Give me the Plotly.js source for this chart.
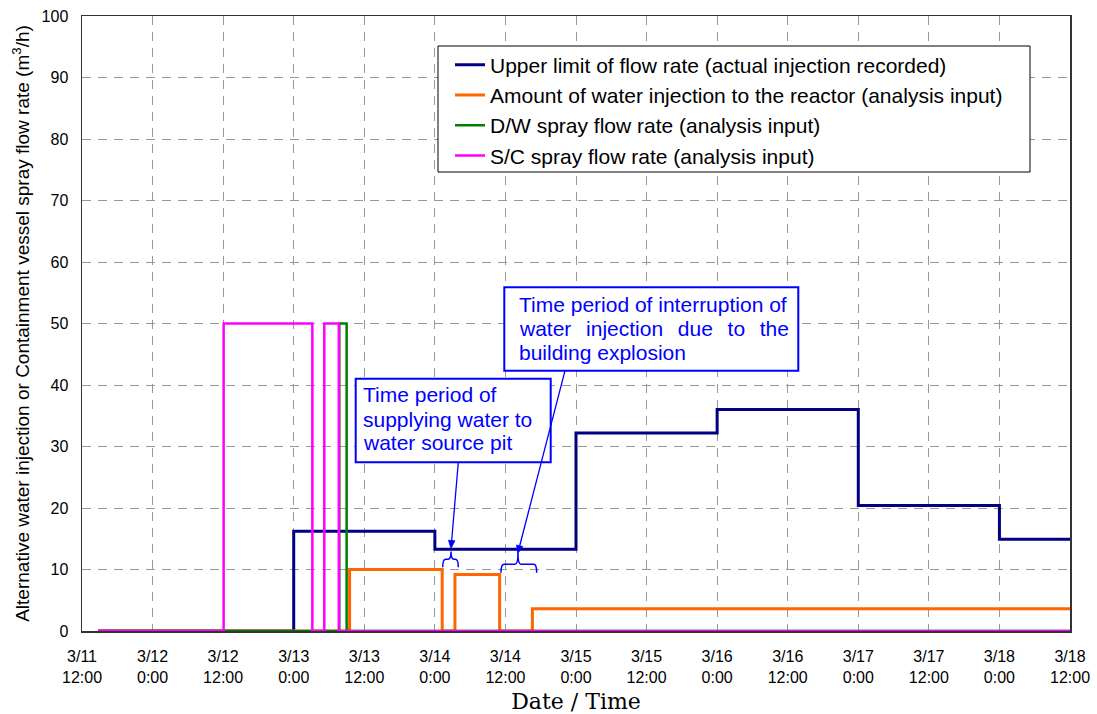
<!DOCTYPE html>
<html>
<head>
<meta charset="utf-8">
<script src="https://cdn.plot.ly/plotly-3.0.1.min.js"></script>
<style>
  html, body { margin: 0; padding: 0; background: #ffffff; }
  #chart { width: 1097px; height: 714px; }
</style>
</head>
<body>
<div id="chart"></div>
<script>
// ---- Data ----
const upperLimitTimes = ['2011-03-11 14:46', '2011-03-13 00:00', '2011-03-14 00:00', '2011-03-15 00:00', '2011-03-16 00:00', '2011-03-17 00:00', '2011-03-18 00:00', '2011-03-18 12:00'];
const upperLimitRates = [0, 16.2, 13.3, 32.2, 36.0, 20.4, 14.9, 14.9];

const reactorTimes = ['2011-03-11 14:46', '2011-03-13 09:30', '2011-03-14 01:15', '2011-03-14 03:25', '2011-03-14 11:01', '2011-03-14 16:35', '2011-03-18 12:00'];
const reactorRates = [0, 10.0, 0, 9.2, 0, 3.6, 3.6];

const dwSprayTimes = ['2011-03-11 14:46', '2011-03-13 07:45', '2011-03-13 09:00', '2011-03-18 12:00'];
const dwSprayRates = [0, 50, 0, 0];

const scSprayTimes = ['2011-03-11 14:46', '2011-03-12 12:05', '2011-03-13 03:10', '2011-03-13 05:12', '2011-03-13 07:40', '2011-03-18 12:00'];
const scSprayRates = [0, 50, 0, 50, 0, 0];

const seriesNames = [
  'Upper limit of flow rate (actual injection recorded)',
  'Amount of water injection to the reactor (analysis input)',
  'D/W spray flow rate (analysis input)',
  'S/C spray flow rate (analysis input)'
];

const tickTimes = ['2011-03-11 12:00', '2011-03-12 00:00', '2011-03-12 12:00', '2011-03-13 00:00', '2011-03-13 12:00', '2011-03-14 00:00', '2011-03-14 12:00', '2011-03-15 00:00', '2011-03-15 12:00', '2011-03-16 00:00', '2011-03-16 12:00', '2011-03-17 00:00', '2011-03-17 12:00', '2011-03-18 00:00', '2011-03-18 12:00'];
const tickLabels = ['3/11<br>12:00', '3/12<br>0:00', '3/12<br>12:00', '3/13<br>0:00', '3/13<br>12:00', '3/14<br>0:00', '3/14<br>12:00', '3/15<br>0:00', '3/15<br>12:00', '3/16<br>0:00', '3/16<br>12:00', '3/17<br>0:00', '3/17<br>12:00', '3/18<br>0:00', '3/18<br>12:00'];

const box1Lines = ['Time period of', 'supplying water to', 'water source pit'];
const box2Lines = ['Time period of interruption of', 'water\u2002\u2009injection\u2002\u2009due\u2002\u2009to\u2002\u2009the', 'building explosion'];

// ---- Layout helpers (plot area pixel -> paper) ----
const L = 82, R = 27, T = 16, B = 83, W = 1097, H = 714;
const PW = W - L - R, PH = H - T - B;
const X = px => (px - L) / PW;
const Y = py => (H - B - py) / PH;

const SANS = 'Liberation Sans, Arial, sans-serif';
const BLUE = '#0000ff';

function trace(x, y, name, color, width) {
  return { x: x, y: y, name: name, type: 'scatter', mode: 'lines',
           line: { color: color, width: width, shape: 'hv' }, hoverinfo: 'skip' };
}

const data = [
  trace(upperLimitTimes, upperLimitRates, seriesNames[0], '#000080', 3),
  trace(reactorTimes, reactorRates, seriesNames[1], '#ff6600', 3),
  trace(dwSprayTimes, dwSprayRates, seriesNames[2], '#008000', 2.5),
  trace(scSprayTimes, scSprayRates, seriesNames[3], '#ff00ff', 2.5)
];

const p = (a, b) => X(a).toFixed(5) + ',' + Y(b).toFixed(5);

function brace(x1, x2, xm, yTip, yMid, yEnd) {
  const r = 3;
  return 'M' + p(x1, yEnd) + ' Q' + p(x1, yMid) + ' ' + p(x1 + r, yMid) +
         ' L' + p(xm - r, yMid) + ' Q' + p(xm, yMid) + ' ' + p(xm, yTip) +
         ' Q' + p(xm, yMid) + ' ' + p(xm + r, yMid) +
         ' L' + p(x2 - r, yMid) + ' Q' + p(x2, yMid) + ' ' + p(x2, yEnd);
}

const shapes = [
  // legend frame
  { type: 'rect', xref: 'paper', yref: 'paper', x0: X(438), x1: X(1030), y0: Y(172), y1: Y(46),
    line: { color: '#000000', width: 1 }, fillcolor: '#ffffff', layer: 'above' },
  // callout boxes
  { type: 'rect', xref: 'paper', yref: 'paper', x0: X(355.7), x1: X(550.7), y0: Y(462.3), y1: Y(378.7),
    line: { color: BLUE, width: 2 }, fillcolor: '#ffffff', layer: 'above' },
  { type: 'rect', xref: 'paper', yref: 'paper', x0: X(504.3), x1: X(798.3), y0: Y(370.7), y1: Y(287.3),
    line: { color: BLUE, width: 2 }, fillcolor: '#ffffff', layer: 'above' },
  // braces
  { type: 'path', xref: 'paper', yref: 'paper', path: brace(442.7, 458.3, 451, 551.5, 559.3, 567.3),
    line: { color: BLUE, width: 1.5 } },
  { type: 'path', xref: 'paper', yref: 'paper', path: brace(501, 536.7, 518, 553, 564.3, 572.7),
    line: { color: BLUE, width: 1.5 } }
];

function arrowShapes(hx, hy, tx, ty) {
  const len = Math.hypot(hx - tx, hy - ty);
  const dx = (hx - tx) / len, dy = (hy - ty) / len;
  const hl = 8, hw = 3.2;
  const bx = hx - dx * hl, by = hy - dy * hl;
  shapes.push({ type: 'line', xref: 'paper', yref: 'paper', x0: X(tx), y0: Y(ty), x1: X(bx), y1: Y(by),
    line: { color: BLUE, width: 1.3 } });
  shapes.push({ type: 'path', xref: 'paper', yref: 'paper',
    path: 'M' + p(hx, hy) + ' L' + p(bx - dy * hw, by + dx * hw) + ' L' + p(bx + dy * hw, by - dx * hw) + ' Z',
    fillcolor: BLUE, line: { color: BLUE, width: 0.8 } });
}
arrowShapes(451, 548.5, 458.3, 462.3);
arrowShapes(517.7, 553.5, 565, 370.7);

const annotations = [];
function textLine(txt, pxLeft, pyMid) {
  annotations.push({ text: txt, xref: 'paper', yref: 'paper', x: X(pxLeft), y: Y(pyMid),
    xanchor: 'left', yanchor: 'middle', showarrow: false, font: { family: SANS, size: 21, color: BLUE } });
}
[394.5, 419.5, 442.8].forEach((py, i) => textLine(box1Lines[i], 361, py));
[304, 328.3, 352.3].forEach((py, i) => textLine(box2Lines[i], 517, py));

const layout = {
  width: W, height: H,
  margin: { l: L, r: R, t: T, b: B, pad: 0 },
  paper_bgcolor: '#ffffff', plot_bgcolor: '#ffffff',
  showlegend: true,
  legend: { x: X(450), y: Y(44.5), xanchor: 'left', yanchor: 'top',
    bgcolor: 'rgba(0,0,0,0)', borderwidth: 0,
    font: { family: SANS, size: 21, color: '#000000' } },
  xaxis: {
    type: 'date', range: [tickTimes[0], tickTimes[tickTimes.length - 1]],
    tickmode: 'array', tickvals: tickTimes, ticktext: tickLabels,
    tickfont: { family: SANS, size: 16, color: '#000000' },
    ticks: 'outside', ticklen: 10, tickcolor: 'rgba(0,0,0,0)',
    showgrid: true, gridcolor: '#999999', griddash: '9px,7px', gridwidth: 1,
    showline: true, linecolor: '#333333', linewidth: 1.5, mirror: true, zeroline: false,
    title: { text: 'Date / Time', font: { family: 'DejaVu Serif, Liberation Serif, serif', size: 22, color: '#000000' }, standoff: 9 }
  },
  yaxis: {
    range: [0, 100], dtick: 10, tick0: 0,
    tickfont: { family: SANS, size: 16, color: '#000000' },
    ticks: 'outside', ticklen: 9, tickcolor: 'rgba(0,0,0,0)',
    showgrid: true, gridcolor: '#999999', griddash: '9px,7px', gridwidth: 1,
    showline: true, linecolor: '#333333', linewidth: 1.5, mirror: true, zeroline: false,
    title: { text: 'Alternative water injection or Containment vessel spray flow rate (m<sup>3</sup>/h)',
             font: { family: SANS, size: 19, color: '#000000' }, standoff: 7 }
  },
  shapes: shapes,
  annotations: annotations
};

Plotly.newPlot('chart', data, layout, { displayModeBar: false, staticPlot: true });
</script>
</body>
</html>
